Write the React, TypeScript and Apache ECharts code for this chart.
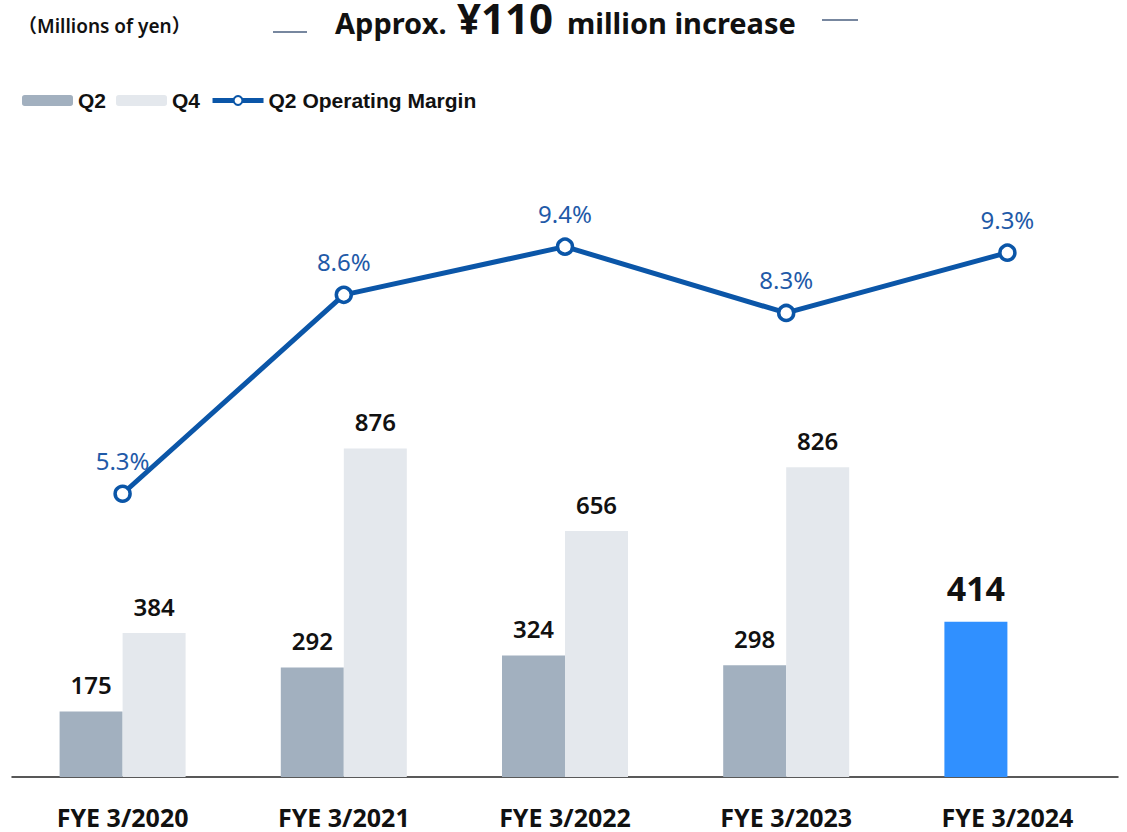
import React, { useEffect, useRef } from "react";
import * as echarts from "echarts";

const categories = ["FYE 3/2020", "FYE 3/2021", "FYE 3/2022", "FYE 3/2023", "FYE 3/2024"];
const q2Values = [175, 292, 324, 298, 414];
const q4Values: (number | null)[] = [384, 876, 656, 826, null];
const marginValues = [5.3, 8.6, 9.4, 8.3, 9.3];

const FONT = "'Noto Sans', 'Open Sans', sans-serif";

export default function App() {
  const ref = useRef<HTMLDivElement>(null);
  useEffect(() => {
    if (!ref.current) return;
    const chart = echarts.init(ref.current, undefined, { renderer: "svg" });
    const lastIdx = q2Values.length - 1;
    chart.setOption({
      animation: false,
      backgroundColor: "#ffffff",
      grid: { left: 12, right: 9, top: 102, bottom: 55, containLabel: false },
      legend: {
        left: 17,
        top: 85,
        itemWidth: 51,
        itemHeight: 11,
        itemGap: 10,
        textStyle: { fontFamily: "'Liberation Sans', Arial, sans-serif", fontWeight: "bold", fontSize: 21, color: "#111" },
        data: [
          { name: "Q2", itemStyle: { color: "#a2b0bf" } },
          { name: "Q4", itemStyle: { color: "#e4e8ed" } },
          { name: "Q2 Operating Margin", lineStyle: { width: 5, color: "#0b56a8" } },
        ],
      },
      xAxis: {
        type: "category",
        data: categories,
        axisLine: { lineStyle: { color: "#222", width: 1.5 } },
        axisTick: { show: false },
        axisLabel: { fontFamily: FONT, fontWeight: "bold", fontSize: 25, color: "#111", margin: 27 },
      },
      yAxis: [
        { type: "value", min: 0, max: 1800, show: false, splitLine: { show: false } },
        { type: "value", min: 0.6, max: 11.8, show: false, splitLine: { show: false } },
      ],
      series: [
        {
          name: "Q2",
          type: "bar",
          barWidth: 63,
          barGap: "0%",
          itemStyle: { color: "#a2b0bf" },
          data: q2Values.map((v, i) =>
            i === lastIdx
              ? {
                  value: v,
                  itemStyle: { color: "#3090ff" },
                  label: { fontSize: 34, fontWeight: "bold", color: "#111", distance: 17 },
                }
              : v
          ),
          label: { show: true, position: "top", distance: 15, fontFamily: FONT, fontSize: 24, fontWeight: 600, color: "#111" },
        },
        {
          name: "Q4",
          type: "bar",
          barWidth: 63,
          barGap: "0%",
          itemStyle: { color: "#e4e8ed" },
          data: q4Values,
          label: { show: true, position: "top", distance: 15, fontFamily: FONT, fontSize: 24, fontWeight: 600, color: "#111" },
        },
        {
          name: "Q2 Operating Margin",
          type: "line",
          yAxisIndex: 1,
          data: marginValues,
          symbol: "circle",
          symbolSize: 15,
          showAllSymbol: true,
          lineStyle: { color: "#0b56a8", width: 5 },
          itemStyle: { color: "#ffffff", borderColor: "#0b56a8", borderWidth: 3.5 },
          label: {
            show: true,
            position: "top",
            distance: 12,
            fontFamily: FONT,
            fontSize: 24,
            color: "#1f5aa8",
            formatter: (p: any) => p.value.toFixed(1) + "%",
          },
          z: 5,
        },
      ],
      graphic: [
        {
          type: "text",
          x: 18,
          y: 16,
          style: { text: "（Millions of yen）", font: "600 19px 'Noto Sans', 'Noto Sans CJK JP', sans-serif", fill: "#111" },
        },
        {
          type: "line",
          shape: { x1: 273, y1: 32, x2: 307, y2: 32 },
          style: { stroke: "#4a5f7f", lineWidth: 1.5 },
        },
        {
          type: "text",
          x: 335,
          y: 8,
          style: { text: "Approx.", font: "bold 29px 'Noto Sans', sans-serif", fill: "#111" },
        },
        {
          type: "text",
          x: 457,
          y: 1,
          style: { text: "¥110", font: "bold 42px 'Noto Sans', sans-serif", fill: "#111", lineHeight: 32 },
        },
        {
          type: "text",
          x: 567,
          y: 8,
          style: { text: "million increase", font: "bold 29px 'Noto Sans', sans-serif", fill: "#111" },
        },
        {
          type: "line",
          shape: { x1: 822, y1: 20, x2: 858, y2: 20 },
          style: { stroke: "#4a5f7f", lineWidth: 1.5 },
        },
      ],
    });
    return () => chart.dispose();
  }, []);
  return <div ref={ref} style={{ position: "fixed", left: 0, top: 0, width: 1127, height: 832 }} />;
}
